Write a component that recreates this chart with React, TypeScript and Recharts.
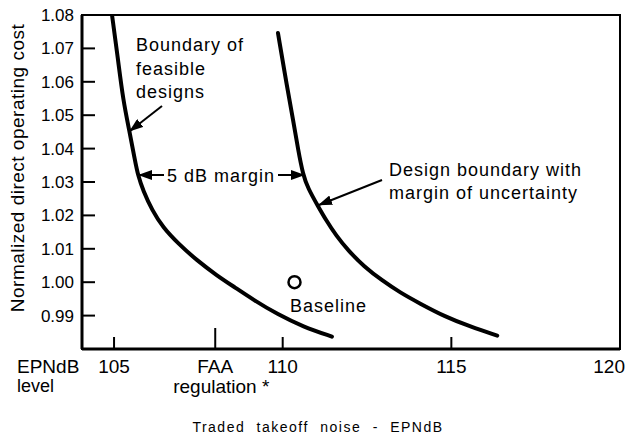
import React from "react"
import { ComposedChart, Line, Scatter, XAxis, YAxis, ReferenceArea } from "recharts"

// boundary of feasible designs (EPNdB, normalized DOC)
const FEASIBLE_X = [
  104.94, 105.12, 105.27, 105.45, 105.62, 105.71, 105.86, 106.13, 106.45,
  106.9, 107.46, 108.05, 108.59, 109.12, 109.86, 110.6, 111.46,
]
const FEASIBLE_Y = [
  1.08, 1.0665, 1.0545, 1.0455, 1.0365, 1.032, 1.0275, 1.0215, 1.0164,
  1.0116, 1.0065, 1.002, 0.9984, 0.9948, 0.9903, 0.9867, 0.9837,
]

// design boundary with margin of uncertainty
const MARGIN_X = [
  109.86, 110.13, 110.31, 110.46, 110.6, 110.75, 111.05, 111.29, 111.58,
  111.94, 112.41, 112.95, 113.48, 114.07, 114.81, 115.56, 116.36,
]
const MARGIN_Y = [
  1.0746, 1.0584, 1.0485, 1.0395, 1.0323, 1.0281, 1.0227, 1.0185, 1.014,
  1.0095, 1.0047, 1.0005, 0.9969, 0.9936, 0.9897, 0.9867, 0.984,
]

const BASELINE = [{ x: 110.35, y: 1.0 }]

const X_TICKS = [105, 108, 110, 115, 120]
const Y_TICKS = [0.99, 1.0, 1.01, 1.02, 1.03, 1.04, 1.05, 1.06, 1.07, 1.08]

const feasible = FEASIBLE_X.map((x, i) => ({ x, y: FEASIBLE_Y[i] }))
const margin = MARGIN_X.map((x, i) => ({ x, y: MARGIN_Y[i] }))

const FONT = "'Liberation Sans', Arial, Helvetica, sans-serif"

const XTick = (props: any) => {
  const { x, y, payload } = props
  const v = payload.value
  if (v === 108) {
    return (
      <g>
        <line x1={x} x2={x} y1={y} y2={y - 21} stroke="#000" strokeWidth={2} />
        <text x={x} y={y + 24} textAnchor="middle" fontSize={19} fontFamily={FONT}>FAA</text>
        <text x={x + 6} y={y + 44} textAnchor="middle" fontSize={19} fontFamily={FONT}>regulation *</text>
      </g>
    )
  }
  return (
    <g>
      {v !== 120 && <line x1={x} x2={x} y1={y} y2={y - 12} stroke="#000" strokeWidth={2} />}
      <text x={v === 120 ? x + 5 : x} y={y + 24} textAnchor={v === 120 ? "end" : "middle"} fontSize={19} fontFamily={FONT}>
        {v}
      </text>
      {v === 105 && (
        <>
          <text x={17} y={y + 24} fontSize={19} fontFamily={FONT}>EPNdB</text>
          <text x={17} y={y + 43} fontSize={18} fontFamily={FONT}>level</text>
        </>
      )}
    </g>
  )
}

const YTick = (props: any) => {
  const { x, y, payload } = props
  const axisX = x + 9
  return (
    <g>
      {payload.value < 1.08 && <line x1={axisX} x2={axisX + 13} y1={y} y2={y} stroke="#000" strokeWidth={2} />}
      <text x={axisX - 8} y={y + 6} textAnchor="end" fontSize={17} fontFamily={FONT}>
        {payload.value.toFixed(2)}
      </text>
    </g>
  )
}

const BaselineDot = (props: any) => (
  <circle cx={props.cx} cy={props.cy} r={6} fill="#fff" stroke="#000" strokeWidth={2.5} />
)

const ann = { fontSize: 18, fontFamily: FONT, letterSpacing: 1 }

export default function App() {
  return (
    <div style={{ position: "absolute", left: 0, top: 0, width: 627, height: 437, background: "#fff" }}>
      <ComposedChart width={627} height={437} margin={{ top: 15, right: 7, bottom: 0, left: 0 }}>
        <defs>
          <marker id="head" markerWidth={14} markerHeight={10} refX={13} refY={5} orient="auto" markerUnits="userSpaceOnUse">
            <path d="M0,0 L14,5 L0,10 z" fill="#000" />
          </marker>
        </defs>
        <XAxis
          type="number"
          dataKey="x"
          domain={[104.05, 120]}
          ticks={X_TICKS}
          interval={0}
          height={88}
          tickSize={0}
          tickMargin={0}
          tick={<XTick />}
          axisLine={{ stroke: "#000", strokeWidth: 3 }}
          allowDataOverflow
        />
        <YAxis
          type="number"
          dataKey="y"
          domain={[0.98, 1.08]}
          ticks={Y_TICKS}
          interval={0}
          width={82}
          tickSize={0}
          tickMargin={9}
          tick={<YTick />}
          axisLine={{ stroke: "#000", strokeWidth: 3 }}
          allowDataOverflow
        />
        <ReferenceArea x1={104.05} x2={120} y1={0.98} y2={1.08} fill="none" stroke="#000" strokeWidth={2} />
        <Line data={feasible} dataKey="y" type="basis" stroke="#000" strokeWidth={4} strokeLinecap="round" dot={false} isAnimationActive={false} />
        <Line data={margin} dataKey="y" type="basis" stroke="#000" strokeWidth={4} strokeLinecap="round" dot={false} isAnimationActive={false} />
        <Scatter data={BASELINE} dataKey="y" shape={<BaselineDot />} isAnimationActive={false} />

        {/* y axis title */}
        <text
          x={24}
          y={168}
          transform="rotate(-90 24 168)"
          textAnchor="middle"
          fontSize={19}
          letterSpacing={0.5}
          fontFamily={FONT}
        >
          Normalized direct operating cost
        </text>

        {/* x axis title */}
        <text x={318} y={432} textAnchor="middle" fontSize={14} letterSpacing={1.5} wordSpacing={6} fontFamily={FONT}>
          Traded takeoff noise - EPNdB
        </text>

        {/* annotations */}
        <text x={136} y={51} {...ann}>Boundary of</text>
        <text x={136} y={75} {...ann}>feasible</text>
        <text x={136} y={98} {...ann}>designs</text>
        <line x1={162} y1={106} x2={130} y2={131} stroke="#000" strokeWidth={2} markerEnd="url(#head)" />

        <text x={167} y={182} {...ann}>5 dB margin</text>
        <line x1={164} y1={175} x2={139} y2={175} stroke="#000" strokeWidth={2} markerEnd="url(#head)" />
        <line x1={278} y1={175} x2={304} y2={175} stroke="#000" strokeWidth={2} markerEnd="url(#head)" />

        <text x={389} y={176} {...ann}>Design boundary with</text>
        <text x={389} y={199} {...ann}>margin of uncertainty</text>
        <line x1={382} y1={180} x2={319} y2={205} stroke="#000" strokeWidth={2} markerEnd="url(#head)" />

        <text x={290} y={312} {...ann}>Baseline</text>
      </ComposedChart>
    </div>
  )
}
